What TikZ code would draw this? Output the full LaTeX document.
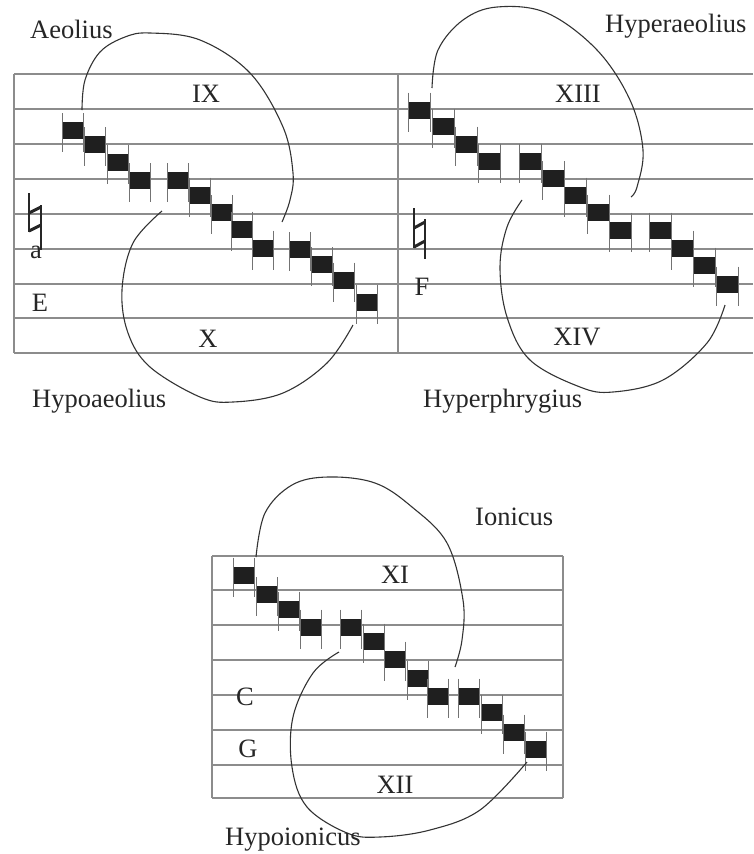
\documentclass[tikz,border=0pt]{standalone}
\usepackage{fontspec}
\setmainfont{Liberation Serif}
\begin{document}
\begin{tikzpicture}[x=1pt,y=-1pt,
  staffline/.style={draw=black!45, line width=1.2pt},
  stemline/.style={draw=black!55, line width=0.9pt},
  notehead/.style={fill=black!88},
  arcline/.style={draw=black!80, line width=1.1pt},
  lbl/.style={inner sep=0pt, font=\fontsize{26.5}{30}\selectfont, text=black!85},
  natbar/.style={draw=black!85, line width=3pt},
  natstem/.style={draw=black!85, line width=1.1pt}]
\useasboundingbox (0,0) rectangle (753,854);
\newcommand\nh[3]{%
  \fill[notehead] (#1,#2-8.5) rectangle ++(#3,17);
  \draw[stemline] (#1,#2-17.5) -- (#1,#2+21.5);
  \draw[stemline] (#1+#3,#2-17.5) -- (#1+#3,#2+21.5);}
% ---------- top staff ----------
\foreach \yy in {74,109,144,179,214,249,284,318,353}
  \draw[staffline] (14,\yy) -- (753,\yy);
\draw[staffline] (14,74) -- (14,353);
\draw[staffline] (398,74) -- (398,353);
% ---------- bottom staff ----------
\foreach \yy in {556,590,625,660,695,730,765,798}
  \draw[staffline] (212,\yy) -- (563,\yy);
\draw[staffline] (212,556) -- (212,798);
\draw[staffline] (563,556) -- (563,798);
% ---------- notes ----------
\foreach \xx/\yy in {62/130.5,84/144.5,107/162,129/180.5,167/180.5,189/195,211/212.5,231/229,252/248,289/249.5,311/264.5,333/280,356/302}
  {\nh{\xx}{\yy}{21}}
\foreach \xx/\yy in {408/110,432/126.5,455/144,478/161,519/161,542/178.5,564/195,587/212,609/230,649/230,671/248,693/265,716/284}
  {\nh{\xx}{\yy}{22}}
\foreach \xx/\yy in {233/575,256/594.5,278/609,300/627,340/627,363/641,384/659,407/678,427/696,458/696,481/712,503/732,525/749}
  {\nh{\xx}{\yy}{21.5}}
% ---------- curves ----------
\draw[arcline] plot[smooth, tension=0.6] coordinates {(82,110) (85,80) (100,52) (125,37) (150,33) (200,40) (250,73) (283,127) (293,173) (290,200) (282,222)};
\draw[arcline] plot[smooth, tension=0.6] coordinates {(162,211) (133,243) (122,290) (128,333) (150,367) (200,397) (233,402) (283,393) (327,363) (353,325)};
\draw[arcline] plot[smooth, tension=0.6] coordinates {(432,88) (438,50) (463,20) (497,7) (547,13) (597,50) (630,100) (643,150) (637,187) (631,197)};
\draw[arcline] plot[smooth, tension=0.6] coordinates {(522,200) (507,227) (500,267) (507,317) (530,360) (580,387) (613,392) (663,380) (707,343) (725,305)};
\draw[arcline] plot[smooth, tension=0.6] coordinates {(256,557) (265,513) (292,485) (328,477) (375,483) (412,507) (447,543) (463,600) (462,640) (455,667)};
\draw[arcline] plot[smooth, tension=0.6] coordinates {(339,652) (313,673) (293,717) (292,767) (307,807) (347,833) (380,837) (430,830) (480,810) (527,762)};
% ---------- natural signs ----------
\draw[natstem] (29,193) -- (29,232);
\draw[natstem] (41,205) -- (41,250);
\draw[natbar] (29,213) -- (41,207);
\draw[natbar] (29,231) -- (41,225);
\draw[natstem] (414,208) -- (414,248);
\draw[natstem] (425,219) -- (425,259);
\draw[natbar] (414,228) -- (425,222);
\draw[natbar] (414,247) -- (425,241);
% ---------- labels ----------
\node[lbl, anchor=base west] (aeol) at (30,38) {Aeolius};
\node[lbl, anchor=base] (ix) at (206,102) {IX};
\node[lbl, anchor=base] (x) at (208,347) {X};
\node[lbl, anchor=base west] (hypoaeol) at (32,407) {Hypoaeolius};
\node[lbl, anchor=base] (la) at (36,258) {a};
\node[lbl, anchor=base] (le) at (40,311) {E};
\node[lbl, anchor=base west] (hyperaeol) at (605,32) {Hyperaeolius};
\node[lbl, anchor=base] (xiii) at (578,102) {XIII};
\node[lbl, anchor=base] (xiv) at (577,345) {XIV};
\node[lbl, anchor=base west] (hyperphryg) at (423,407) {Hyperphrygius};
\node[lbl, anchor=base] (lf) at (422,295) {F};
\node[lbl, anchor=base west] (ionic) at (475,525) {Ionicus};
\node[lbl, anchor=base] (xi) at (395,583) {XI};
\node[lbl, anchor=base] (xii) at (395,793) {XII};
\node[lbl, anchor=base] (lc) at (245,705) {C};
\node[lbl, anchor=base] (lg) at (248,757) {G};
\node[lbl, anchor=base west] (hypoion) at (225,845) {Hypoionicus};
\end{tikzpicture}
\end{document}
